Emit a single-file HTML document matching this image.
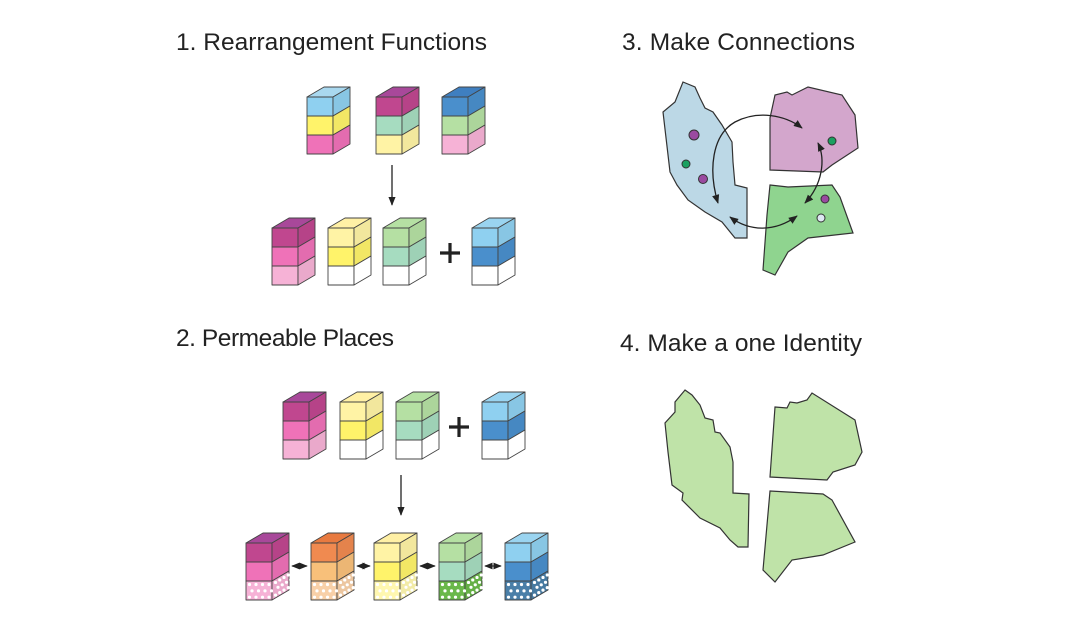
<!DOCTYPE html>
<html><head><meta charset="utf-8"><style>
html,body{margin:0;padding:0;background:#fff;}
svg{display:block;}
text{font-family:"Liberation Sans",sans-serif;font-size:24.5px;fill:#222;}
</style></head><body>
<svg id="s" width="1074" height="636" viewBox="0 0 1074 636" xmlns="http://www.w3.org/2000/svg">
<defs>
<marker id="ah" viewBox="0 0 10 10" refX="9" refY="5" markerWidth="7" markerHeight="7" orient="auto-start-reverse"><path d="M0,1 L10,5 L0,9 z" fill="#222"/></marker>
</defs>
<text x="176" y="50" textLength="311">1. Rearrangement Functions</text>
<text x="622" y="50" textLength="233">3. Make Connections</text>
<text x="176" y="346" textLength="218">2. Permeable Places</text>
<text x="620" y="351" textLength="242">4. Make a one Identity</text>
<g id="cubes"></g>
<line x1="392" y1="165" x2="392" y2="205" stroke="#222" stroke-width="1.3" marker-end="url(#ah)"/>
<line x1="401" y1="475" x2="401" y2="515" stroke="#222" stroke-width="1.3" marker-end="url(#ah)"/>
<g stroke="#222" stroke-width="3.2"><line x1="440" y1="253" x2="460" y2="253"/><line x1="450" y1="243" x2="450" y2="263"/>
<line x1="449" y1="427" x2="469" y2="427"/><line x1="459" y1="417" x2="459" y2="437"/></g>
<g stroke="#222" stroke-width="1.2">
<line x1="292" y1="566" x2="307" y2="566" marker-start="url(#ah)" marker-end="url(#ah)"/>
<line x1="357" y1="566" x2="370" y2="566" marker-start="url(#ah)" marker-end="url(#ah)"/>
<line x1="420" y1="566" x2="435" y2="566" marker-start="url(#ah)" marker-end="url(#ah)"/>
<line x1="485" y1="566" x2="501" y2="566" marker-start="url(#ah)" marker-end="url(#ah)"/>
</g>
<g stroke="#333" stroke-width="1.2">
<polygon fill="#bcd8e6" points="683,82 695,87 700,98 705,108 713,112 722,125 732,142 733,162 735,185 747,188 747,238 735,238 722,222 705,212 688,200 677,185 670,172 663,112 675,102"/>
<polygon fill="#d3a6cc" points="770,118 775,95 787,92 792,95 808,87 842,95 855,115 858,148 832,165 823,172 770,170"/>
<polygon fill="#8fd48f" points="770,185 788,187 832,185 840,197 853,233 808,238 788,252 775,275 763,270 767,215"/>
</g>
<g stroke="#333" stroke-width="1">
<circle cx="694" cy="135" r="5" fill="#9a4aa0"/>
<circle cx="686" cy="164" r="4" fill="#1aa060"/>
<circle cx="703" cy="179" r="4.5" fill="#9a4aa0"/>
<circle cx="832" cy="141" r="4" fill="#1aa060"/>
<circle cx="825" cy="199" r="4" fill="#9a4aa0"/>
<circle cx="821" cy="218" r="4" fill="#dde8f2"/>
</g>
<g fill="none" stroke="#222" stroke-width="1.3">
<path d="M718,203 C708,170 712,135 735,122 C758,110 785,115 802,128" marker-start="url(#ah)" marker-end="url(#ah)"/>
<path d="M818,143 C826,160 822,185 805,203" marker-start="url(#ah)" marker-end="url(#ah)"/>
<path d="M730,217 C750,232 775,232 797,216" marker-start="url(#ah)" marker-end="url(#ah)"/>
</g>
<g stroke="#333" stroke-width="1.2" fill="#bfe3a8">
<polygon points="685,390 692,395 700,405 705,418 713,420 715,432 720,433 730,447 733,462 733,493 749,494 748,547 738,547 730,540 720,528 700,518 682,500 683,493 672,485 668,452 665,423 675,412 675,402"/>
<polygon points="775,407 787,408 790,402 797,403 807,400 812,393 855,420 862,452 855,465 833,472 827,480 770,477"/>
<polygon points="770,491 823,494 832,500 855,542 823,555 792,560 775,582 763,570"/>
</g>
</svg>
<script>
(function(){
var NS="http://www.w3.org/2000/svg",g=document.getElementById("cubes");
var W=26,DX=17,DY=10,LH=19;
function shade(c,f){var n=parseInt(c.slice(1),16),r=n>>16,gg=(n>>8)&255,b=n&255;
r=Math.round(r*f);gg=Math.round(gg*f);b=Math.round(b*f);return "rgb("+r+","+gg+","+b+")";}
function poly(pts,fill){var p=document.createElementNS(NS,"polygon");p.setAttribute("points",pts);p.setAttribute("fill",fill);p.setAttribute("stroke","#444");p.setAttribute("stroke-width","0.9");p.setAttribute("stroke-linejoin","round");g.appendChild(p);}
function dots(x,y,w,h,sk){for(var i=0;i<4;i++)for(var j=0;j<3;j++){var cx=x+3.5+i*(w/4)+(j%2)*2.5,cy=y+3.5+j*(h/3);if(sk)cy-=(cx-x)*DY/DX;var c=document.createElementNS(NS,"circle");c.setAttribute("cx",cx);c.setAttribute("cy",cy);c.setAttribute("r",1.6);c.setAttribute("fill","#fff");g.appendChild(c);}}
function cube(x,y,top,layers,dotted){
 poly([x,y,x+DX,y-DY,x+W+DX,y-DY,x+W,y].join(","),top);
 for(var i=0;i<layers.length;i++){var c=layers[i],yy=y+i*LH;
  poly([x,yy,x+W,yy,x+W,yy+LH,x,yy+LH].join(","),c);
  poly([x+W,yy,x+W+DX,yy-DY,x+W+DX,yy-DY+LH,x+W,yy+LH].join(","),c=="#ffffff"?c:shade(c,0.95));
  if(dotted&&i==layers.length-1){dots(x,yy,W,LH,false);dots(x+W,yy,DX,LH,true);}
 }}
var mag="#c0478f",magT="#a8489a",pink="#ef72b8",lpink="#f6b2d6",yel="#fff36a",pyel="#fff3a5",mint="#a6dcc0",lgr="#b5e0a3",lb="#8fd0f0",db="#4a8fcc",wh="#ffffff";
cube(307,97,"#a9d8ef",[lb,yel,pink]);
cube(376,97,magT,[mag,mint,pyel]);
cube(442,97,"#3f7fc0",[db,lgr,lpink]);
cube(272,228,magT,[mag,pink,lpink]);
cube(328,228,"#fff0a5",[pyel,yel,wh]);
cube(383,228,lgr,[lgr,mint,wh]);
cube(472,228,"#9ad4f0",[lb,db,wh]);
cube(283,402,magT,[mag,pink,lpink]);
cube(340,402,"#fff0a5",[pyel,yel,wh]);
cube(396,402,lgr,[lgr,mint,wh]);
cube(482,402,"#9ad4f0",[lb,db,wh]);
cube(246,543,magT,[mag,pink,lpink],1);
cube(311,543,"#e87a40",["#f08a50","#f8c07a","#f8d0a8"],1);
cube(374,543,"#fff0a5",[pyel,yel,"#fff7b0"],1);
cube(439,543,lgr,[lgr,mint,"#6ab84a"],1);
cube(505,543,"#9ad4f0",[lb,db,"#4a7fa8"],1);
})();
</script>
</body></html>
